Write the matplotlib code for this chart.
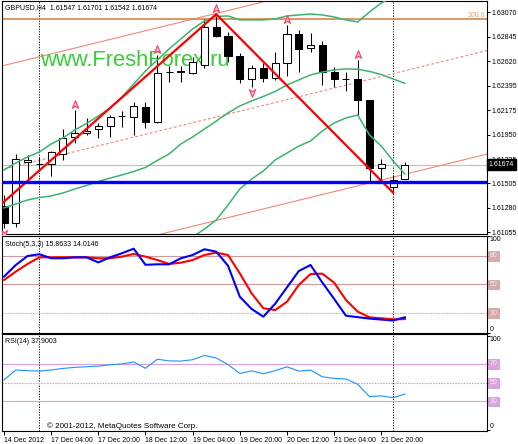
import matplotlib
matplotlib.use("Agg")
import matplotlib.pyplot as plt
import matplotlib.transforms as mtransforms
from matplotlib.patches import Rectangle
from matplotlib.path import Path

plt.rcParams['font.family'] = ['Liberation Sans', 'DejaVu Sans']

# ---------------- data ----------------
header_text = "GBPUSD,H4  1.61547 1.61701 1.61542 1.61674"
date_labels = ["14 Dec 2012", "17 Dec 04:00", "17 Dec 20:00", "18 Dec 12:00",
               "19 Dec 04:00", "19 Dec 20:00", "20 Dec 12:00", "21 Dec 04:00",
               "21 Dec 20:00"]
date_label_bars = [0, 4, 8, 12, 16, 20, 24, 28, 32]

opens = [1.61296, 1.61143, 1.61700, 1.61680, 1.61680, 1.61772, 1.61925, 1.61967,
         1.62001, 1.62029, 1.62122, 1.62114, 1.62205, 1.62068, 1.62525, 1.62524,
         1.62517, 1.62590, 1.62933, 1.62853, 1.62670, 1.62459, 1.62557, 1.62466,
         1.62603, 1.62869, 1.62740, 1.62771, 1.62526, 1.62457, 1.62456, 1.62267,
         1.61641, 1.61473, 1.61547]
highs = [1.61397, 1.61769, 1.61765, 1.61745, 1.61804, 1.62001, 1.62175, 1.62102,
         1.62056, 1.62129, 1.62169, 1.62251, 1.62251, 1.62679, 1.62578, 1.62578,
         1.62663, 1.63009, 1.63052, 1.62887, 1.62695, 1.62587, 1.62606, 1.62709,
         1.62954, 1.62908, 1.62883, 1.62810, 1.62572, 1.62526, 1.62633, 1.62267,
         1.61724, 1.61580, 1.61701]
lows = [1.61094, 1.61106, 1.61534, 1.61625, 1.61571, 1.61717, 1.61873, 1.61946,
        1.61921, 1.61931, 1.62022, 1.61946, 1.62008, 1.62056, 1.62434, 1.62434,
        1.62505, 1.62560, 1.62841, 1.62618, 1.62420, 1.62386, 1.62434, 1.62450,
        1.62489, 1.62526, 1.62709, 1.62404, 1.62389, 1.62352, 1.62129, 1.61518,
        1.61528, 1.61418, 1.61542]
closes = [1.61143, 1.61724, 1.61718, 1.61681, 1.61788, 1.61916, 1.61967, 1.61985,
          1.62029, 1.62114, 1.62124, 1.62212, 1.62068, 1.62517, 1.62527, 1.62528,
          1.62618, 1.62938, 1.62853, 1.62670, 1.62459, 1.62557, 1.62466, 1.62603,
          1.62869, 1.62734, 1.62771, 1.62526, 1.62459, 1.62455, 1.62267, 1.61647,
          1.61681, 1.61534, 1.61674]

bb_upper = [1.61626, 1.61690, 1.61745, 1.61791, 1.61864, 1.61919, 1.61992, 1.62052,
            1.62120, 1.62194, 1.62294, 1.62413, 1.62532, 1.62633, 1.62734, 1.62826,
            1.62917, 1.62990, 1.63032, 1.63036, 1.63000, 1.63000, 1.63000, 1.63009,
            1.63036, 1.63045, 1.63054, 1.63045, 1.63027, 1.63000, 1.62981, 1.63073,
            1.63155, 1.63210, 1.63250]
bb_middle = [1.61278, 1.61314, 1.61351, 1.61374, 1.61388, 1.61415, 1.61452, 1.61484,
             1.61520, 1.61552, 1.61580, 1.61612, 1.61649, 1.61713, 1.61772, 1.61864,
             1.61928, 1.62001, 1.62074, 1.62148, 1.62212, 1.62258, 1.62299, 1.62345,
             1.62404, 1.62450, 1.62496, 1.62523, 1.62542, 1.62551, 1.62548, 1.62528,
             1.62500, 1.62459, 1.62420]
bb_lower = [1.60930, 1.60939, 1.60957, 1.60957, 1.60911, 1.60911, 1.60911, 1.60916,
            1.60920, 1.60911, 1.60865, 1.60810, 1.60764, 1.60792, 1.60810, 1.60902,
            1.61012, 1.61085, 1.61168, 1.61305, 1.61452, 1.61543, 1.61617, 1.61717,
            1.61781, 1.61845, 1.61891, 1.61983, 1.62056, 1.62102, 1.62129, 1.61946,
            1.61845, 1.61708, 1.61589]

zigzag_bars = [-1, 18, 33]
zigzag_prices = [1.61240, 1.63052, 1.61418]

channel_bars = [0, 41]
channel_mid = [1.61635, 1.62720]
channel_half_width = 0.00948

fibo_100 = 1.63009
support_level = 1.61518
bid_price = 1.61674

fractal_up_bars = [6, 13, 18, 24, 30]
fractal_down_bars = [0, 21]
separator_bars = [3, 33]

price_ticks = [1.63070, 1.62845, 1.62620, 1.62395, 1.62175, 1.61950, 1.61725,
               1.61505, 1.61280, 1.61055]

stoch_main = [58.2, 70.3, 79.7, 81.5, 77.3, 77.3, 78.3, 78.3, 73.0, 78.3, 82.5, 87.3,
              70.5, 71.0, 71.0, 77.3, 80.7, 86.7, 84.2, 69.5, 37.3, 24.5, 16.5, 30.0,
              47.0, 64.0, 70.3, 52.0, 35.0, 17.5, 16.0, 14.5, 13.5, 12.5, 15.8633]
stoch_signal = [54.7, 63.4, 71.4, 78.3, 78.3, 78.3, 78.3, 78.3, 77.3, 77.3, 79.0, 81.8,
                79.0, 75.5, 71.4, 72.7, 75.5, 80.7, 83.2, 80.7, 61.6, 40.8, 25.2, 23.4,
                32.0, 49.5, 60.9, 61.3, 51.9, 33.9, 21.7, 15.8, 14.8, 13.7, 14.0146]
stoch_levels = [80, 50, 20]

rsi_values = [53.0, 63.5, 62.8, 62.4, 63.5, 65.2, 66.3, 67.0, 67.7, 69.0, 70.0, 72.0,
              65.3, 75.0, 73.2, 73.0, 74.5, 79.0, 76.3, 69.3, 59.8, 62.6, 59.5, 62.8,
              66.9, 62.3, 63.4, 56.3, 54.6, 54.0, 48.3, 35.2, 36.0, 34.0, 37.9003]
rsi_levels = [70, 50, 30]

# ---------------- figure ----------------
W, H = 518, 444
fig = plt.figure(figsize=(W / 100, H / 100), dpi=100)
fig.patch.set_facecolor('white')


def axpos(x0, y0, x1, y1):
    return [x0 / W, 1 - y1 / H, (x1 - x0) / W, (y1 - y0) / H]


ax = fig.add_axes(axpos(1.7, 1.0, 486.7, 234.3))
ax_st = fig.add_axes(axpos(1.7, 236.0, 486.7, 332.7))
ax_rsi = fig.add_axes(axpos(1.7, 334.3, 486.7, 431.0))

XMIN, XMAX = -0.195, 40.94
FS = 5.0

for a in (ax, ax_st, ax_rsi):
    a.set_xlim(XMIN, XMAX)
    for s in a.spines.values():
        s.set_color('black')
        s.set_linewidth(0.8)
    a.yaxis.tick_right()
    a.tick_params(axis='y', which='both', length=2, width=0.7, pad=1.5,
                  labelsize=FS, colors='black')
    a.set_facecolor('white')
    for b in separator_bars:
        a.axvline(b, color='black', lw=0.7, ls=(0, (1.2, 1.5)), zorder=1.2)

# ---- main price panel ----
ax.set_ylim(1.61037, 1.63173)
ax.set_xticks([])
ax.set_yticks(price_ticks)
ax.set_yticklabels(["%.5f" % v for v in price_ticks])

# channel
lo_line = [m - channel_half_width for m in channel_mid]
hi_line = [m + channel_half_width for m in channel_mid]
ax.plot(channel_bars, hi_line, color='#f08878', lw=0.8, zorder=1.6)
ax.plot(channel_bars, lo_line, color='#f08878', lw=0.8, zorder=1.6)
ax.plot(channel_bars, channel_mid, color='#f08878', lw=0.8, ls=(0, (2.5, 2.0)), zorder=1.6)

# horizontal lines
ax.axhline(fibo_100, color='#d0864a', lw=1.2, zorder=1.7)
ax.text(0.997, fibo_100, "100.0", transform=mtransforms.blended_transform_factory(ax.transAxes, ax.transData),
        ha='right', va='bottom', fontsize=FS, color='#e8a468', zorder=6)
ax.axhline(bid_price, color='#c0c0c0', lw=0.8, zorder=1.5)

# watermark
ax.text(40 / W, 1 - 66.5 / H, "www.FreshForex.ru", transform=fig.transFigure,
        fontsize=15.8, color='#38cc38', ha='left', va='baseline', zorder=2)

# candles
for i, (o, h, l, c) in enumerate(zip(opens, highs, lows, closes)):
    ax.plot([i, i], [l, h], color='black', lw=0.75, zorder=3, solid_capstyle='butt')
    bot, top = min(o, c), max(o, c)
    bull = c >= o
    ax.add_patch(Rectangle((i - 0.3, bot), 0.6, max(top - bot, 1e-7),
                           facecolor='white' if bull else 'black',
                           edgecolor='black', lw=0.75, zorder=3.1))

# bollinger bands
xs = list(range(len(closes)))
for band in (bb_upper, bb_middle, bb_lower):
    ax.plot(xs, band, color='#3cb371', lw=1.1, zorder=4)

# zigzag
ax.plot(zigzag_bars, zigzag_prices, color='#ff0000', lw=1.6, zorder=5)

# support line
ax.axhline(support_level, color='#0000ff', lw=2.4, zorder=5.5)

# fractals
arrow_up = Path([(0, 1), (0.8, -1), (0, -0.45), (-0.8, -1), (0, 1)],
                [Path.MOVETO, Path.LINETO, Path.LINETO, Path.LINETO, Path.CLOSEPOLY])
arrow_dn = Path([(0, -1), (0.8, 1), (0, 0.45), (-0.8, 1), (0, -1)],
                [Path.MOVETO, Path.LINETO, Path.LINETO, Path.LINETO, Path.CLOSEPOLY])
tr_up = mtransforms.offset_copy(ax.transData, fig=fig, y=4.2, units='points')
tr_dn = mtransforms.offset_copy(ax.transData, fig=fig, y=-4.2, units='points')
ax.plot(fractal_up_bars, [highs[b] for b in fractal_up_bars], ls='none', marker=arrow_up,
        ms=5.5, mfc='#ffc8d4', mec='#ff3a66', mew=0.8, transform=tr_up, zorder=6)
ax.plot(fractal_down_bars, [lows[b] for b in fractal_down_bars], ls='none', marker=arrow_dn,
        ms=5.5, mfc='#ffc8d4', mec='#ff3a66', mew=0.8, transform=tr_dn, zorder=6)

# header
ax.text(5 / W, 1 - 7.5 / H, header_text, transform=fig.transFigure, fontsize=FS,
        ha='left', va='center', color='black', zorder=7)

# bid price box
ax.text(1.004, bid_price, "%.5f" % bid_price,
        transform=mtransforms.blended_transform_factory(ax.transAxes, ax.transData),
        fontsize=FS, color='white', ha='left', va='center', zorder=10, clip_on=False,
        bbox=dict(boxstyle='square,pad=0.25', fc='black', ec='black'))

# ---- stochastic ----
ax_st.set_ylim(-0.2, 100.5)
ax_st.set_xticks([])
ax_st.set_yticks([100, 80, 50, 20, 0])
ax_st.set_yticklabels([])
btr_st = mtransforms.blended_transform_factory(ax_st.transAxes, ax_st.transData)
for lv in stoch_levels:
    ax_st.axhline(lv, color='#c99a9a' if lv != 20 else '#ddb0b0', lw=0.8,
                  ls='-' if lv != 20 else (0, (1.5, 1.0)), zorder=1.5)
    ax_st.text(1.006, lv, str(lv), transform=btr_st, fontsize=FS, color='#f6e6e6',
               ha='left', va='center', clip_on=False,
               bbox=dict(boxstyle='square,pad=0.2', fc='#d6aaaa', ec='#c99a9a', lw=0.5))
ax_st.text(1.006, 100, "100", transform=btr_st, fontsize=FS, ha='left', va='top', clip_on=False)
ax_st.text(1.006, 0, "0", transform=btr_st, fontsize=FS, ha='left', va='bottom', clip_on=False)
ax_st.plot(xs, stoch_signal, color='#ff0000', lw=1.5, zorder=4)
ax_st.plot(xs, stoch_main, color='#0000ff', lw=1.5, zorder=4.5)
ax_st.text(5 / W, 1 - 244 / H, "Stoch(5,3,3) 15.8633 14.0146", transform=fig.transFigure,
           fontsize=FS, ha='left', va='center', zorder=7)

# ---- RSI ----
ax_rsi.set_ylim(-1.4, 101.5)
ax_rsi.set_yticks([100, 70, 50, 30, 0])
ax_rsi.set_yticklabels([])
btr_r = mtransforms.blended_transform_factory(ax_rsi.transAxes, ax_rsi.transData)
for lv in rsi_levels:
    ax_rsi.axhline(lv, color='#dc9fdc', lw=0.8, ls='-' if lv != 50 else (0, (1.5, 1.0)),
                   zorder=1.5)
    ax_rsi.text(1.006, lv, str(lv), transform=btr_r, fontsize=FS, color='#f8e8f8',
                ha='left', va='center', clip_on=False,
                bbox=dict(boxstyle='square,pad=0.2', fc='#dca4dc', ec='#cc90cc', lw=0.5))
ax_rsi.text(1.006, 100, "100", transform=btr_r, fontsize=FS, ha='left', va='top', clip_on=False)
ax_rsi.text(1.006, 0, "0", transform=btr_r, fontsize=FS, ha='left', va='bottom', clip_on=False)
ax_rsi.plot(xs, rsi_values, color='#1e90ff', lw=0.8, zorder=4)
ax_rsi.text(5 / W, 1 - 341.7 / H, "RSI(14) 37.9003", transform=fig.transFigure,
            fontsize=FS, ha='left', va='center', zorder=7)
ax_rsi.text(46.7 / W, 1 - 425.7 / H, "\u00a9 2001-2012, MetaQuotes Software Corp.",
            transform=fig.transFigure, fontsize=5.8, ha='left', va='center', zorder=7)

ax_rsi.set_xticks(date_label_bars)
ax_rsi.set_xticklabels(date_labels)
ax_rsi.tick_params(axis='x', length=3, width=0.7, pad=1.5, labelsize=FS, colors='black')
for lab in ax_rsi.get_xticklabels():
    lab.set_ha('left')

fig.savefig("out.png", dpi=100, facecolor='white')
